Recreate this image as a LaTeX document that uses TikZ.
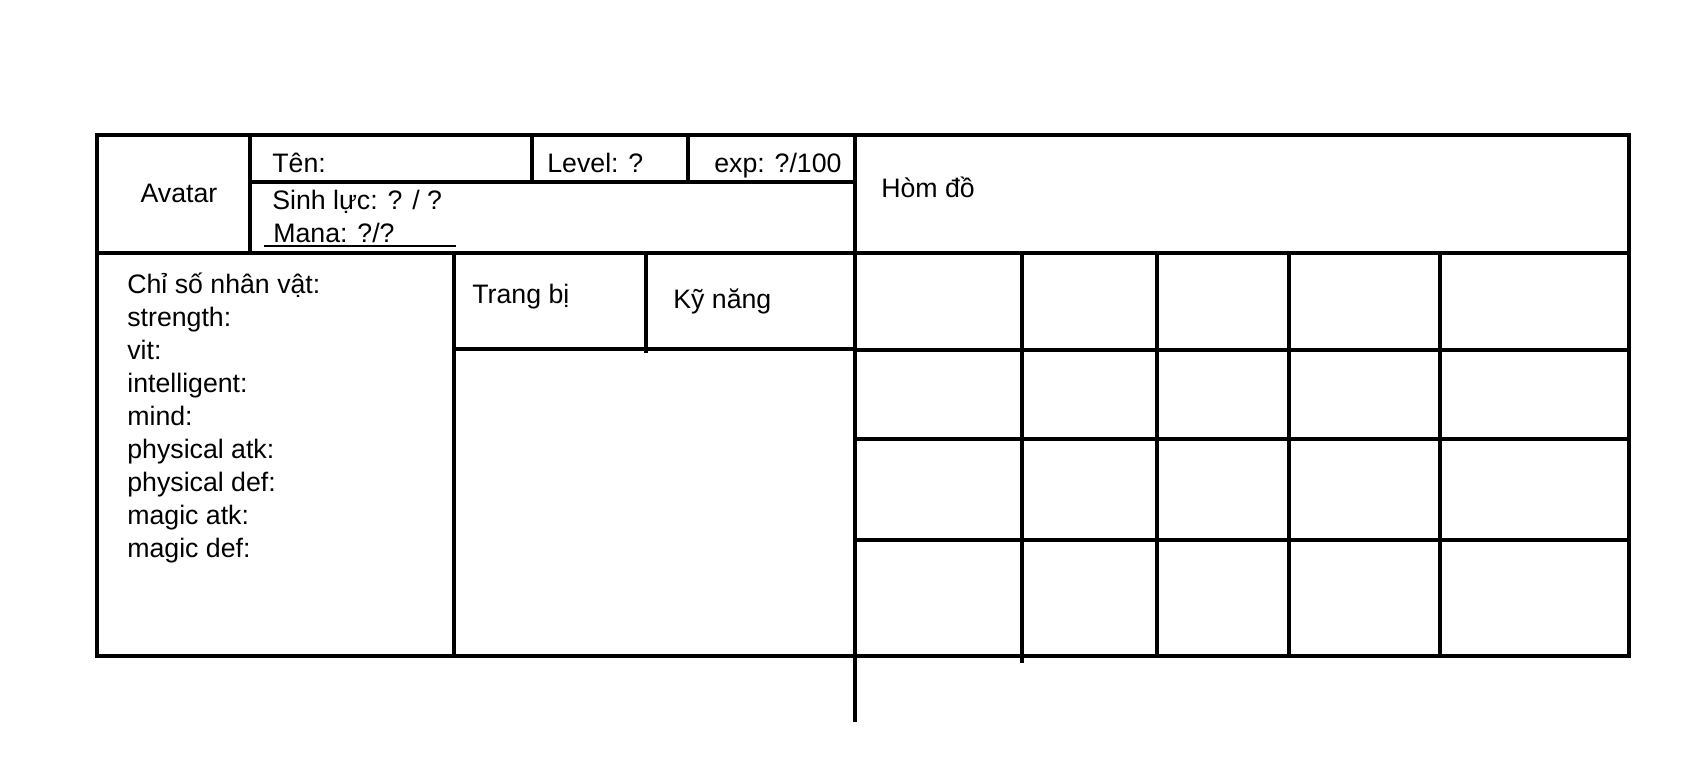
\documentclass[tikz,border=0pt]{standalone}
\usepackage{fontspec}
\setmainfont{Liberation Sans}
\usetikzlibrary{positioning}
\tikzset{
    frame/.style={line width=2.8pt, line cap=rect},
    thinline/.style={line width=0.6pt},
    lbl/.style={anchor=base west, inner sep=0pt, font=\fontsize{15.2}{18.8}\selectfont},
}

\begin{document}
\begin{tikzpicture}[x=0.02cm, y=-0.02cm]
    \useasboundingbox (0,0) rectangle (1689,777);

    % khung ngoai
    \draw[frame] (97,135) rectangle (1629,656);
    \draw[frame] (97,253) -- (1629,253);
    \draw[frame] (855,135) -- (855,720);

    % thong tin nhan vat
    \draw[frame] (250,135) -- (250,253);
    \draw[frame] (250,182) -- (855,182);
    \draw[frame] (532,135) -- (532,182);
    \draw[frame] (688,135) -- (688,182);
    \draw[thinline] (264,246) -- (456,246);

    \node[lbl, anchor=base] (avatar) at (179,202) {Avatar};
    \node[lbl] (ten) at (272,172) {Tên:};
    \node[lbl] (level) at (547,172) {Level: ?};
    \node[lbl] (exp) at (714,172) {exp: ?/100};
    \node[lbl] (sinhluc) at (272,209) {Sinh lực: ? / ?};
    \node[lbl] (mana) at (273,242) {Mana: ?/?};

    % chi so, trang bi, ky nang
    \draw[frame] (454,253) -- (454,656);
    \draw[frame] (454,349) -- (855,349);
    \draw[frame] (646,253) -- (646,351);

    \foreach \t [count=\i] in {Chỉ số nhân vật:, strength:, vit:, intelligent:, mind:,
        physical atk:, physical def:, magic atk:, magic def:}
        \node[lbl] (chiso\i) at (127,260+33*\i) {\t};

    \node[lbl] (trangbi) at (472,303) {Trang bị};
    \node[lbl] (kynang) at (673,308) {Kỹ năng};

    % hom do
    \node[lbl] (homdo) at (881,197) {Hòm đồ};
    \foreach \y in {350,439,540}
        \draw[frame] (855,\y) -- (1629,\y);
    \foreach \x in {1157,1289,1440}
        \draw[frame] (\x,253) -- (\x,656);
    \draw[frame] (1022,253) -- (1022,661);
\end{tikzpicture}
\end{document}
